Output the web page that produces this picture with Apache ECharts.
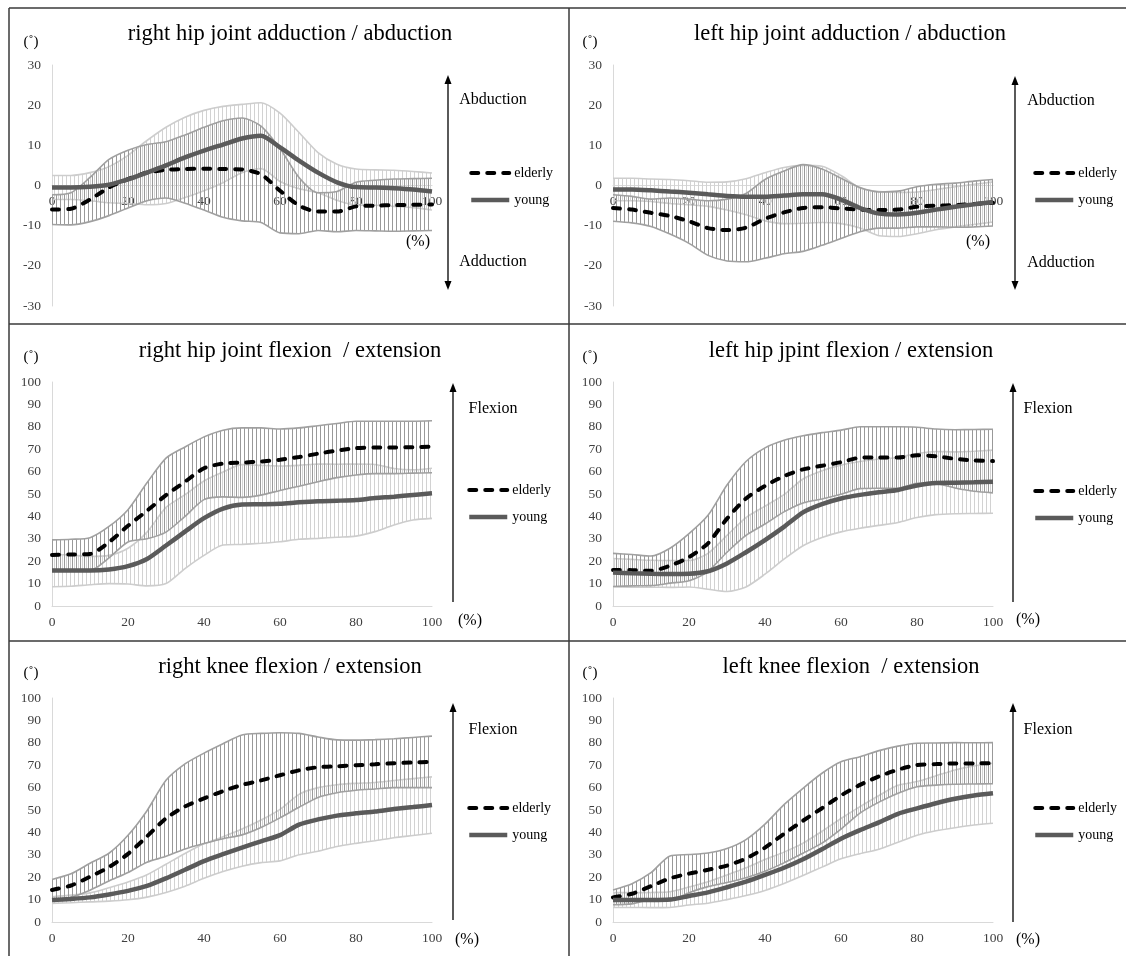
<!DOCTYPE html>
<html>
<head>
<meta charset="utf-8">
<script src="https://cdn.jsdelivr.net/npm/echarts@6/dist/echarts.min.js"></script>
<style>
  html, body { margin: 0; padding: 0; background: #fff; }
  #chart { width: 1126px; height: 956px; }
</style>
</head>
<body>
<div id="chart"></div>
<script>
// Gait cycle sampling (% of cycle) and axis ticks
const GAIT_PCT = [0, 5, 10, 15, 20, 25, 30, 35, 40, 45, 50, 55, 60, 65, 70, 75, 80, 85, 90, 95, 100];
const X_TICK_LABELS = ['0', '20', '40', '60', '80', '100'];
const ABD_TICKS = [-30, -20, -10, 0, 10, 20, 30];
const FLEX_TICKS = [0, 10, 20, 30, 40, 50, 60, 70, 80, 90, 100];

// Right hip adduction (-) / abduction (+), degrees: mean and SD
const R_HIP_ABD_ELDERLY    = [-6.0, -5.8, -3.5, -0.5, 1.6, 3.2, 3.9, 4.1, 4.2, 4.1, 4.0, 2.8, -1.3, -5.0, -6.5, -6.5, -5.2, -5.0, -4.9, -4.8, -4.7];
const R_HIP_ABD_ELDERLY_SD = [3.7, 4.0, 5.5, 7.0, 7.2, 7.0, 7.0, 8.5, 10.3, 12.0, 12.8, 12.0, 10.5, 7.0, 4.7, 5.0, 6.0, 6.3, 6.5, 6.5, 6.5];
const R_HIP_ABD_YOUNG      = [-0.5, -0.5, -0.3, 0.2, 1.5, 3.2, 5.0, 7.0, 8.7, 10.2, 11.7, 12.4, 9.5, 6.2, 3.2, 0.8, -0.4, -0.5, -0.7, -1.0, -1.5];
const R_HIP_ABD_YOUNG_SD   = [3.0, 3.0, 3.5, 4.5, 6.0, 8.0, 9.5, 10.0, 10.0, 9.5, 8.5, 8.2, 8.5, 7.0, 5.0, 4.5, 4.5, 4.4, 4.5, 4.5, 4.6];

// Left hip adduction (-) / abduction (+)
const L_HIP_ABD_ELDERLY    = [-5.6, -6.0, -6.8, -7.6, -8.9, -10.6, -11.1, -10.5, -8.3, -6.7, -5.6, -5.4, -5.7, -6.0, -6.1, -6.0, -5.3, -5.0, -4.9, -4.6, -4.3];
const L_HIP_ABD_ELDERLY_SD = [3.3, 3.3, 3.4, 4.5, 5.5, 6.8, 7.7, 8.5, 9.8, 10.3, 10.8, 9.5, 7.5, 5.5, 4.5, 4.6, 5.0, 5.3, 5.5, 5.7, 5.8];
const L_HIP_ABD_YOUNG      = [-1.0, -1.0, -1.2, -1.5, -1.8, -2.2, -2.6, -2.8, -2.8, -2.5, -2.2, -2.2, -3.5, -5.6, -7.0, -7.2, -6.8, -6.0, -5.3, -4.7, -4.1];
const L_HIP_ABD_YOUNG_SD   = [2.8, 2.8, 2.8, 3.0, 3.0, 3.0, 3.5, 4.5, 6.0, 7.0, 7.2, 7.0, 6.0, 5.0, 5.5, 5.5, 5.2, 5.0, 5.0, 5.0, 5.0];

// Right hip flexion / extension
const R_HIP_FLEX_ELDERLY    = [22.8, 23.0, 23.2, 28.5, 35.8, 42.5, 49.5, 55.5, 61.5, 63.6, 64.0, 64.5, 65.3, 66.5, 68.0, 69.4, 70.5, 70.8, 70.8, 70.9, 71.1];
const R_HIP_FLEX_ELDERLY_SD = [6.7, 6.8, 7.3, 7.0, 7.2, 12.5, 16.5, 15.5, 14.0, 14.9, 15.5, 15.0, 13.7, 13.0, 12.5, 12.1, 12.0, 11.7, 11.7, 11.6, 11.6];
const R_HIP_FLEX_YOUNG      = [15.8, 15.8, 15.8, 16.3, 17.8, 21.0, 27.0, 33.2, 39.2, 43.5, 45.3, 45.4, 45.6, 46.3, 46.8, 47.0, 47.3, 48.2, 48.8, 49.6, 50.3];
const R_HIP_FLEX_YOUNG_SD   = [7.2, 7.0, 6.3, 6.3, 8.0, 12.0, 17.0, 16.5, 16.6, 16.3, 17.8, 17.4, 16.9, 16.5, 16.6, 16.3, 16.1, 15.0, 12.6, 11.2, 11.2];

// Left hip flexion / extension
const L_HIP_FLEX_ELDERLY    = [16.1, 16.0, 15.7, 18.0, 21.8, 28.0, 39.0, 48.0, 53.6, 58.0, 61.0, 62.6, 64.2, 66.2, 66.3, 66.3, 67.3, 66.8, 65.7, 65.0, 64.7];
const L_HIP_FLEX_ELDERLY_SD = [7.4, 7.0, 6.6, 7.8, 10.5, 12.5, 15.0, 16.5, 17.0, 16.0, 15.0, 14.8, 14.3, 13.8, 13.7, 13.7, 12.5, 12.2, 13.0, 13.8, 14.2];
const L_HIP_FLEX_YOUNG      = [14.9, 14.6, 14.4, 14.3, 14.4, 15.5, 19.0, 24.0, 29.4, 35.3, 41.8, 45.5, 48.0, 49.6, 50.8, 51.8, 53.8, 54.9, 55.0, 55.2, 55.5];
const L_HIP_FLEX_YOUNG_SD   = [6.3, 6.2, 6.0, 6.0, 5.9, 8.0, 12.5, 15.5, 15.2, 14.4, 14.9, 14.9, 14.9, 14.9, 14.8, 14.5, 14.3, 14.1, 13.8, 13.9, 14.1];

// Right knee flexion / extension
const R_KNEE_FLEX_ELDERLY    = [14.3, 16.3, 20.2, 24.5, 30.4, 38.2, 46.3, 51.6, 55.2, 58.4, 61.2, 63.2, 65.5, 67.7, 69.1, 69.5, 70.0, 70.4, 70.9, 71.2, 71.5];
const R_KNEE_FLEX_ELDERLY_SD = [4.7, 5.2, 6.0, 6.2, 8.3, 11.5, 17.0, 19.0, 20.2, 21.2, 22.3, 21.0, 19.0, 16.5, 13.5, 11.8, 11.2, 11.0, 10.9, 11.2, 11.5];
const R_KNEE_FLEX_YOUNG      = [9.8, 10.3, 11.0, 12.3, 13.9, 16.1, 19.5, 23.3, 27.2, 30.3, 33.2, 36.0, 38.8, 43.5, 45.8, 47.5, 48.5, 49.3, 50.4, 51.3, 52.2];
const R_KNEE_FLEX_YOUNG_SD   = [1.5, 1.7, 2.0, 3.0, 4.0, 5.0, 6.3, 7.3, 7.7, 7.8, 8.3, 9.5, 11.5, 13.5, 14.2, 13.8, 13.4, 13.0, 12.8, 12.7, 12.6];

// Left knee flexion / extension
const L_KNEE_FLEX_ELDERLY    = [11.0, 12.6, 16.0, 19.5, 21.6, 23.3, 25.2, 28.3, 33.2, 39.4, 45.2, 50.8, 56.5, 61.2, 65.0, 68.0, 70.1, 70.5, 70.8, 70.8, 70.9];
const L_KNEE_FLEX_ELDERLY_SD = [3.3, 4.5, 6.0, 10.0, 8.5, 7.5, 7.6, 8.5, 10.5, 13.0, 14.5, 15.6, 15.0, 12.6, 11.5, 10.5, 9.7, 9.4, 9.3, 9.2, 9.2];
const L_KNEE_FLEX_YOUNG      = [9.8, 9.8, 9.8, 10.0, 11.6, 13.2, 15.5, 18.0, 21.0, 24.2, 28.0, 32.5, 37.2, 41.0, 44.5, 48.3, 50.7, 53.0, 55.0, 56.5, 57.5];
const L_KNEE_FLEX_YOUNG_SD   = [3.3, 3.3, 3.4, 3.5, 4.0, 4.8, 5.5, 6.2, 6.9, 7.0, 7.2, 8.0, 9.0, 10.5, 12.0, 12.7, 12.0, 12.3, 12.9, 13.2, 13.4];

const GROUP_NAMES = ['elderly', 'young'];
const PANEL_TITLES = [
  'right hip joint adduction / abduction',
  'left hip joint adduction / abduction',
  'right hip joint flexion  / extension',
  'left hip jpint flexion / extension',
  'right knee flexion / extension',
  'left knee flexion  / extension'
];

const SERIF = '"Liberation Serif", "Times New Roman", serif';

// Group line styles (shared by the plot lines and the legend keys)
const ELDERLY_LINE = { color: '#000', width: 4, type: [7, 9], cap: 'round' };
const YOUNG_LINE = { color: '#5a5a5a', width: 4.5, type: 'solid', cap: 'butt' };

// Panel layout: plot box, annotation positions
const PANELS = [
  { data: [R_HIP_ABD_ELDERLY, R_HIP_ABD_ELDERLY_SD, R_HIP_ABD_YOUNG, R_HIP_ABD_YOUNG_SD], ticks: ABD_TICKS,
    grid: { left: 52, top: 65, width: 380, height: 241 }, cx: 290, ty: 34, deg: [31, 42], pct: [418, 242],
    arrow: { x: 448, top: 75, bot: 290, both: true }, dir: [['Abduction', 493, 100], ['Adduction', 493, 262]], leg: [469, 166] },
  { data: [L_HIP_ABD_ELDERLY, L_HIP_ABD_ELDERLY_SD, L_HIP_ABD_YOUNG, L_HIP_ABD_YOUNG_SD], ticks: ABD_TICKS,
    grid: { left: 613, top: 65, width: 380, height: 241 }, cx: 850, ty: 34, deg: [590, 42], pct: [978, 242],
    arrow: { x: 1015, top: 76, bot: 290, both: true }, dir: [['Abduction', 1061, 101], ['Adduction', 1061, 263]], leg: [1033, 166] },
  { data: [R_HIP_FLEX_ELDERLY, R_HIP_FLEX_ELDERLY_SD, R_HIP_FLEX_YOUNG, R_HIP_FLEX_YOUNG_SD], ticks: FLEX_TICKS,
    grid: { left: 52, top: 382, width: 380, height: 224 }, cx: 290, ty: 351, deg: [31, 357], pct: [470, 621],
    arrow: { x: 453, top: 383, bot: 602, both: false }, dir: [['Flexion', 493, 409]], leg: [467, 483] },
  { data: [L_HIP_FLEX_ELDERLY, L_HIP_FLEX_ELDERLY_SD, L_HIP_FLEX_YOUNG, L_HIP_FLEX_YOUNG_SD], ticks: FLEX_TICKS,
    grid: { left: 613, top: 382, width: 380, height: 224 }, cx: 851, ty: 351, deg: [590, 357], pct: [1028, 620],
    arrow: { x: 1013, top: 383, bot: 602, both: false }, dir: [['Flexion', 1048, 409]], leg: [1033, 484] },
  { data: [R_KNEE_FLEX_ELDERLY, R_KNEE_FLEX_ELDERLY_SD, R_KNEE_FLEX_YOUNG, R_KNEE_FLEX_YOUNG_SD], ticks: FLEX_TICKS,
    grid: { left: 52, top: 698, width: 380, height: 224 }, cx: 290, ty: 667, deg: [31, 673], pct: [467, 940],
    arrow: { x: 453, top: 703, bot: 920, both: false }, dir: [['Flexion', 493, 730]], leg: [467, 801] },
  { data: [L_KNEE_FLEX_ELDERLY, L_KNEE_FLEX_ELDERLY_SD, L_KNEE_FLEX_YOUNG, L_KNEE_FLEX_YOUNG_SD], ticks: FLEX_TICKS,
    grid: { left: 613, top: 698, width: 380, height: 224 }, cx: 851, ty: 667, deg: [590, 673], pct: [1028, 940],
    arrow: { x: 1013, top: 703, bot: 922, both: false }, dir: [['Flexion', 1048, 730]], leg: [1033, 801] }
];

// Vertical-line hatch used for the ±SD error-bar bands
function hatch(color, offset) {
  const c = document.createElement('canvas');
  c.width = 4; c.height = 4;
  const g = c.getContext('2d');
  g.fillStyle = color;
  g.fillRect(offset, 0, 1, 4);
  return { image: c, repeat: 'repeat' };
}
const ELDERLY_HATCH = hatch('#999999', 0);
const YOUNG_HATCH = hatch('#d2d2d2', 2);

function sdBand(gi, mean, sd, key, edge, pattern, z) {
  const lower = mean.map((m, k) => +(m - sd[k]).toFixed(2));
  const span = sd.map(s => +(2 * s).toFixed(2));
  const base = {
    type: 'line', name: key + ' SD', xAxisIndex: gi, yAxisIndex: gi,
    stack: key + gi, stackStrategy: 'all', symbol: 'none', smooth: 0.25,
    silent: true, z: z, lineStyle: { color: edge, width: 1.6 }
  };
  return [
    Object.assign({}, base, { data: lower }),
    Object.assign({}, base, { data: span, areaStyle: { color: pattern, opacity: 1 } })
  ];
}

const grids = [], xAxes = [], yAxes = [], series = [], legends = [], graphics = [];

PANELS.forEach((p, gi) => {
  const [eMean, eSd, yMean, ySd] = p.data;
  const yMin = p.ticks[0], yMax = p.ticks[p.ticks.length - 1];
  grids.push(Object.assign({ containLabel: false }, p.grid));
  // the x axis sits on the zero line (labels included)
  const zeroShift = yMin < 0 ? -p.grid.height * (-yMin) / (yMax - yMin) : 0;
  xAxes.push({
    gridIndex: gi, type: 'category', boundaryGap: false, data: GAIT_PCT.map(String),
    offset: zeroShift,
    axisLine: { onZero: false, lineStyle: { color: '#d9d9d9', width: 1 } },
    axisTick: { show: false }, splitLine: { show: false },
    axisLabel: {
      interval: (idx, val) => X_TICK_LABELS.includes(val),
      color: '#404040', fontFamily: SERIF, fontSize: 13.5, margin: 9
    }
  });
  yAxes.push({
    gridIndex: gi, type: 'value',
    min: yMin, max: yMax, interval: p.ticks[1] - p.ticks[0],
    axisLine: { show: true, lineStyle: { color: '#d9d9d9', width: 1 } },
    axisTick: { show: false }, splitLine: { show: false },
    axisLabel: { color: '#404040', fontFamily: SERIF, fontSize: 13.5, margin: 11 }
  });

  series.push(...sdBand(gi, yMean, ySd, 'young', '#cdcdcd', YOUNG_HATCH, 1));
  series.push(...sdBand(gi, eMean, eSd, 'elderly', '#a0a0a0', ELDERLY_HATCH, 2));
  series.push({
    type: 'line', name: GROUP_NAMES[0], xAxisIndex: gi, yAxisIndex: gi, data: eMean,
    symbol: 'none', smooth: 0.25, z: 4, color: ELDERLY_LINE.color,
    lineStyle: ELDERLY_LINE
  });
  series.push({
    type: 'line', name: GROUP_NAMES[1], xAxisIndex: gi, yAxisIndex: gi, data: yMean,
    symbol: 'none', smooth: 0.25, z: 5, color: YOUNG_LINE.color,
    lineStyle: YOUNG_LINE
  });

  legends.push({
    data: [
      { name: GROUP_NAMES[0], lineStyle: ELDERLY_LINE },
      { name: GROUP_NAMES[1], lineStyle: YOUNG_LINE }
    ],
    left: p.leg[0], top: p.leg[1], orient: 'vertical', padding: 0,
    itemWidth: 38, itemHeight: 14, itemGap: 13, selectedMode: false,
    itemStyle: { opacity: 0, color: 'transparent', borderWidth: 0 },
    textStyle: { fontFamily: SERIF, fontSize: 14, color: '#000' }
  });

  // Titles and annotations
  graphics.push({ type: 'text', x: p.cx, y: p.ty, z: 50,
    style: { text: PANEL_TITLES[gi], font: '22.5px ' + SERIF, fill: '#000', align: 'center', verticalAlign: 'middle' } });
  graphics.push({ type: 'text', x: p.deg[0], y: p.deg[1], z: 50,
    style: { text: '(˚)', font: '15px ' + SERIF, fill: '#000', align: 'center', verticalAlign: 'middle' } });
  graphics.push({ type: 'text', x: p.pct[0], y: p.pct[1], z: 50,
    style: { text: '(%)', font: '16px ' + SERIF, fill: '#000', align: 'center', verticalAlign: 'middle' } });
  p.dir.forEach(d => graphics.push({ type: 'text', x: d[1], y: d[2], z: 50,
    style: { text: d[0], font: '16px ' + SERIF, fill: '#000', align: 'center', verticalAlign: 'middle' } }));

  const a = p.arrow;
  graphics.push({ type: 'line', z: 50, shape: { x1: a.x, y1: a.top + 8, x2: a.x, y2: a.both ? a.bot - 8 : a.bot },
    style: { stroke: '#000', lineWidth: 1.3 } });
  graphics.push({ type: 'polygon', z: 50, shape: { points: [[a.x, a.top], [a.x - 3.5, a.top + 9], [a.x + 3.5, a.top + 9]] },
    style: { fill: '#000' } });
  if (a.both) {
    graphics.push({ type: 'polygon', z: 50, shape: { points: [[a.x, a.bot], [a.x - 3.5, a.bot - 9], [a.x + 3.5, a.bot - 9]] },
      style: { fill: '#000' } });
  }
});

// Panel frame lines
[[9, 8, 1126, 8], [9, 324, 1126, 324], [9, 641, 1126, 641], [9, 8, 9, 956], [569, 8, 569, 956]].forEach(l => {
  graphics.push({ type: 'line', z: 60, shape: { x1: l[0], y1: l[1], x2: l[2], y2: l[3] },
    style: { stroke: '#3a3a3a', lineWidth: 1.5 } });
});

const chart = echarts.init(document.getElementById('chart'), null, { renderer: 'canvas' });
chart.setOption({
  animation: false,
  backgroundColor: '#fff',
  textStyle: { fontFamily: SERIF },
  grid: grids,
  xAxis: xAxes,
  yAxis: yAxes,
  legend: legends,
  series: series,
  graphic: { elements: graphics }
});
</script>
</body>
</html>
